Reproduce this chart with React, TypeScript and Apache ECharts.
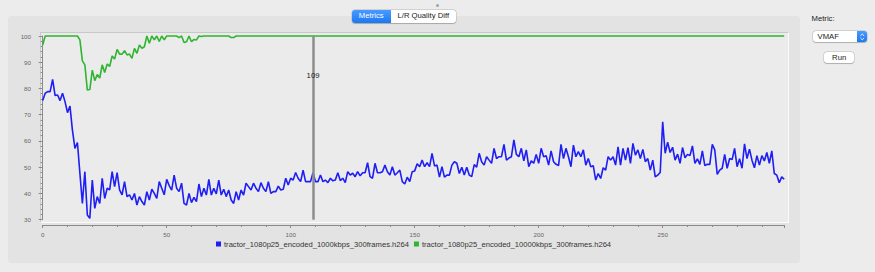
import React, { useEffect, useRef } from "react";
import * as echarts from "echarts";

// ---------- data ----------
const seriesNames = [
  "tractor_1080p25_encoded_1000kbps_300frames.h264",
  "tractor_1080p25_encoded_10000kbps_300frames.h264",
];

const vmaf1000kbps = [
  75.4, 78.2, 78.8, 78.8, 83.5, 77.3, 77.5, 75.4, 78.2, 75.0,
  70.8, 73.3, 64.0, 57.2, 59.4, 47.7, 36.2, 48.3, 31.8, 30.5,
  45.1, 34.3, 38.8, 36.2, 45.8, 38.1, 42.0, 41.4, 48.3, 42.6,
  47.9, 41.4, 39.5, 44.5, 38.8, 39.5, 37.5, 40.0, 35.6, 38.8,
  36.9, 35.6, 40.7, 37.5, 41.6, 40.0, 38.1, 44.5, 42.0, 39.5,
  45.4, 43.0, 41.3, 47.0, 42.0, 40.7, 43.9, 36.2, 35.6, 40.0,
  36.5, 38.5, 36.9, 43.6, 38.8, 42.0, 39.4, 45.4, 39.4, 42.0,
  39.8, 45.1, 39.4, 41.6, 38.8, 41.3, 37.5, 36.2, 40.7, 37.5,
  41.3, 39.4, 43.9, 42.6, 41.3, 43.9, 42.0, 40.7, 44.1, 42.0,
  40.7, 44.5, 40.0, 40.7, 40.7, 42.8, 41.3, 41.6, 45.8, 43.2,
  45.8, 45.1, 48.0, 45.8, 44.5, 48.9, 44.5, 44.5, 44.5, 47.9,
  44.5, 44.5, 47.0, 44.5, 45.1, 44.1, 45.8, 44.8, 45.1, 47.9,
  44.9, 45.8, 44.1, 48.3, 47.0, 47.7, 46.4, 48.3, 46.7, 47.9,
  47.9, 51.7, 46.4, 45.8, 51.5, 47.9, 47.9, 48.3, 50.8, 48.3,
  47.0, 50.2, 47.0, 47.9, 48.9, 44.5, 43.6, 46.2, 44.5, 48.3,
  48.6, 51.3, 50.2, 52.7, 50.2, 51.7, 50.2, 55.3, 50.5, 50.8,
  46.2, 50.2, 46.2, 47.0, 47.0, 50.8, 52.1, 51.5, 47.6, 50.0,
  47.0, 50.0, 47.0, 46.4, 51.0, 50.0, 55.3, 52.1, 50.8, 54.0,
  52.7, 51.5, 57.2, 53.3, 54.0, 54.0, 58.7, 52.7, 53.5, 54.0,
  60.4, 54.9, 54.0, 57.2, 52.4, 56.6, 50.2, 52.4, 51.5, 54.9,
  51.5, 57.2, 54.0, 54.4, 50.8, 56.2, 52.1, 51.1, 50.6, 58.7,
  53.3, 57.2, 54.0, 50.2, 58.4, 54.0, 55.9, 54.0, 56.6, 50.8,
  53.3, 50.2, 50.6, 45.1, 47.6, 45.7, 49.8, 48.9, 54.0, 52.7,
  54.0, 50.8, 57.8, 50.8, 57.2, 52.7, 57.5, 51.5, 59.1, 54.6,
  56.6, 53.3, 56.8, 52.1, 53.3, 48.9, 52.7, 46.3, 47.0, 48.0,
  67.3, 55.3, 59.5, 55.6, 57.6, 52.7, 55.0, 51.5, 57.5, 53.6,
  54.9, 54.4, 58.1, 51.5, 53.2, 51.1, 56.2, 50.6, 51.1, 51.1,
  58.7, 56.6, 47.3, 48.9, 49.6, 54.9, 49.6, 53.3, 52.9, 57.2,
  50.2, 53.2, 49.6, 58.9, 53.3, 56.9, 52.7, 49.8, 54.4, 50.8,
  54.4, 52.4, 55.6, 51.5, 56.2, 47.6, 47.0, 44.1, 46.3, 45.4,
];

const vmaf10000kbps = [
  96.6, 100, 100, 100, 100, 100, 100, 100, 100, 100,
  100, 100, 100, 100, 100, 98.5, 90.5, 89.0, 79.4, 79.6,
  87.0, 83.0, 85.3, 84.0, 89.0, 86.1, 89.3, 88.4, 92.4, 91.2,
  94.9, 93.1, 93.1, 94.4, 92.8, 93.1, 91.5, 95.3, 93.4, 96.6,
  95.3, 95.9, 100, 97.2, 100, 98.5, 100, 97.9, 100, 98.5,
  100, 100, 100, 100, 100, 99.4, 100, 97.5, 97.8, 100,
  97.8, 98.7, 98.5, 100, 99.8, 100, 100, 100, 100, 100,
  100, 100, 100, 100, 100, 100, 99.4, 99.4, 100, 100,
  100, 100, 100, 100, 100, 100, 100, 100, 100, 100,
  100, 100, 100, 100, 100, 100, 100, 100, 100, 100,
  100, 100, 100, 100, 100, 100, 100, 100, 100, 100,
  100, 100, 100, 100, 100, 100, 100, 100, 100, 100,
  100, 100, 100, 100, 100, 100, 100, 100, 100, 100,
  100, 100, 100, 100, 100, 100, 100, 100, 100, 100,
  100, 100, 100, 100, 100, 100, 100, 100, 100, 100,
  100, 100, 100, 100, 100, 100, 100, 100, 100, 100,
  100, 100, 100, 100, 100, 100, 100, 100, 100, 100,
  100, 100, 100, 100, 100, 100, 100, 100, 100, 100,
  100, 100, 100, 100, 100, 100, 100, 100, 100, 100,
  100, 100, 100, 100, 100, 100, 100, 100, 100, 100,
  100, 100, 100, 100, 100, 100, 100, 100, 100, 100,
  100, 100, 100, 100, 100, 100, 100, 100, 100, 100,
  100, 100, 100, 100, 100, 100, 100, 100, 100, 100,
  100, 100, 100, 100, 100, 100, 100, 100, 100, 100,
  100, 100, 100, 100, 100, 100, 100, 100, 100, 100,
  100, 100, 100, 100, 100, 100, 100, 100, 100, 100,
  100, 100, 100, 100, 100, 100, 100, 100, 100, 100,
  100, 100, 100, 100, 100, 100, 100, 100, 100, 100,
  100, 100, 100, 100, 100, 100, 100, 100, 100, 100,
  100, 100, 100, 100, 100, 100, 100, 100, 100, 100,
];

const xRange = [0, 299];
const yRange = [30, 100];
const xTickStep = 50;
const yTickStep = 10;
const markerFrame = 109;
const markerLabelValue = 85;

const tabLabels = ["Metrics", "L/R Quality Diff"];
const metricLabel = "Metric:";
const metricValue = "VMAF";
const runLabel = "Run";

const FONT = "'Liberation Sans', Arial, Helvetica, sans-serif";
const BLUE = "#1e1ef5";
const GREEN = "#2fb52f";
const AXIS = "#8a8a8a";

export default function App() {
  const ref = useRef<HTMLDivElement>(null);

  useEffect(() => {
    if (!ref.current) return;
    const chart = echarts.init(ref.current, null, { renderer: "svg" });
    chart.setOption({
      animation: false,
      backgroundColor: "transparent",
      textStyle: { fontFamily: FONT },
      grid: { left: 42.7, top: 36, width: 741.5, height: 183.7, containLabel: false },
      legend: {
        left: 216,
        top: 240,
        padding: 0,
        itemWidth: 5,
        itemHeight: 5,
        itemGap: 5,
        icon: "rect",
        textStyle: { fontSize: 7.6, color: "#333", fontFamily: FONT, padding: [0, 0, 0, -2] },
        data: seriesNames,
      },
      xAxis: {
        type: "value",
        min: xRange[0],
        max: xRange[1],
        interval: xTickStep,
        offset: 5.3,
        axisLine: { show: true, lineStyle: { color: AXIS, width: 1 } },
        axisTick: { show: true, length: 3, lineStyle: { color: AXIS } },
        minorTick: { show: true, splitNumber: 5, length: 2, lineStyle: { color: AXIS } },
        axisLabel: { fontSize: 6.2, color: "#666", margin: 6, showMaxLabel: false, fontFamily: FONT },
        splitLine: { show: false },
      },
      yAxis: {
        type: "value",
        min: yRange[0],
        max: yRange[1],
        interval: yTickStep,
        offset: 5.4,
        axisLine: { show: true, lineStyle: { color: AXIS, width: 1 } },
        axisTick: { show: true, length: 4, lineStyle: { color: AXIS } },
        minorTick: { show: true, splitNumber: 5, length: 2, lineStyle: { color: AXIS } },
        axisLabel: { fontSize: 6.2, color: "#666", margin: 6.3, fontFamily: FONT },
        splitLine: { show: false },
      },
      series: [
        {
          name: seriesNames[0],
          type: "line",
          data: vmaf1000kbps.map((v, i) => [i, v]),
          symbol: "none",
          showSymbol: false,
          clip: false,
          z: 3,
          lineStyle: { color: BLUE, width: 1.6 },
          itemStyle: { color: BLUE },
          markLine: {
            silent: true,
            symbol: ["none", "none"],
            label: { show: false },
            lineStyle: { color: "#8d8d8d", width: 2.5, type: "solid" },
            data: [{ xAxis: markerFrame }],
          },
          markPoint: {
            silent: true,
            symbol: "circle",
            symbolSize: 1,
            itemStyle: { color: "rgba(0,0,0,0)" },
            label: {
              show: true,
              position: "inside",
              formatter: String(markerFrame),
              color: "#1a1a1a",
              fontSize: 7.7,
              fontFamily: FONT,
            },
            data: [{ coord: [markerFrame, markerLabelValue] }],
          },
        },
        {
          name: seriesNames[1],
          type: "line",
          data: vmaf10000kbps.map((v, i) => [i, v]),
          symbol: "none",
          showSymbol: false,
          clip: false,
          z: 4,
          lineStyle: { color: GREEN, width: 1.6 },
          itemStyle: { color: GREEN },
        },
      ],
    });
    return () => chart.dispose();
  }, []);

  const shadow = "0 0 0 0.5px rgba(0,0,0,0.2), 0 0.5px 1px rgba(0,0,0,0.18)";

  return (
    <div
      style={{
        position: "fixed",
        left: 0,
        top: 0,
        width: 875,
        height: 272,
        background: "#ececec",
        overflow: "hidden",
        fontFamily: FONT,
      }}
    >
      <div
        style={{
          position: "absolute",
          left: 8,
          top: 16,
          width: 792,
          height: 247,
          background: "#e3e3e3",
          borderRadius: 4,
        }}
      />
      <div
        style={{
          position: "absolute",
          left: 39.5,
          top: 32.3,
          width: 749.5,
          height: 190.5,
          background: "#ebebeb",
          borderTop: "1.5px solid #c8c8c8",
          borderLeft: "1.5px solid #c8c8c8",
          borderRight: "1.5px solid #fbfbfb",
          borderBottom: "1.5px solid #fbfbfb",
          boxSizing: "border-box",
        }}
      />
      <div ref={ref} style={{ position: "absolute", left: 0, top: 0, width: 875, height: 272 }} />

      {/* small dot */}
      <div
        style={{
          position: "absolute",
          left: 435.6,
          top: 3.6,
          width: 3,
          height: 3,
          borderRadius: "50%",
          background: "#a2a2a2",
        }}
      />

      {/* segmented control */}
      <div
        style={{
          position: "absolute",
          left: 351.5,
          top: 10,
          width: 104,
          height: 12.5,
          borderRadius: 3,
          background: "#fff",
          boxShadow: shadow,
          display: "flex",
          overflow: "hidden",
          fontSize: 7.7,
          lineHeight: "12.5px",
        }}
      >
        <div
          style={{
            width: 39.5,
            background: "linear-gradient(#4a9bff, #1a78f2)",
            color: "#fff",
            textAlign: "center",
          }}
        >
          {tabLabels[0]}
        </div>
        <div style={{ flex: 1, color: "#222", textAlign: "center" }}>{tabLabels[1]}</div>
      </div>

      {/* Metric label */}
      <div
        style={{
          position: "absolute",
          left: 811.5,
          top: 14,
          fontSize: 7.7,
          lineHeight: "10px",
          color: "#222",
        }}
      >
        {metricLabel}
      </div>

      {/* popup */}
      <div
        style={{
          position: "absolute",
          left: 812.5,
          top: 30.5,
          width: 54.5,
          height: 11.8,
          borderRadius: 3,
          background: "#fff",
          boxShadow: shadow,
          fontSize: 7.7,
          lineHeight: "11.8px",
          color: "#222",
          overflow: "hidden",
        }}
      >
        <span style={{ position: "absolute", left: 5, top: 0 }}>{metricValue}</span>
        <div
          style={{
            position: "absolute",
            right: 0,
            top: 0,
            width: 10.5,
            height: 11.8,
            background: "linear-gradient(#4a9bff, #1a78f2)",
          }}
        >
          <svg width="10.5" height="11.8" viewBox="0 0 10.5 11.8" style={{ display: "block" }}>
            <polyline points="3.4,4.8 5.25,3 7.1,4.8" fill="none" stroke="#fff" strokeWidth="0.9" />
            <polyline points="3.4,7 5.25,8.8 7.1,7" fill="none" stroke="#fff" strokeWidth="0.9" />
          </svg>
        </div>
      </div>

      {/* Run button */}
      <div
        style={{
          position: "absolute",
          left: 824,
          top: 51.7,
          width: 30.3,
          height: 11.6,
          borderRadius: 3,
          background: "#fff",
          boxShadow: shadow,
          fontSize: 7.7,
          lineHeight: "11.6px",
          color: "#222",
          textAlign: "center",
        }}
      >
        {runLabel}
      </div>
    </div>
  );
}
